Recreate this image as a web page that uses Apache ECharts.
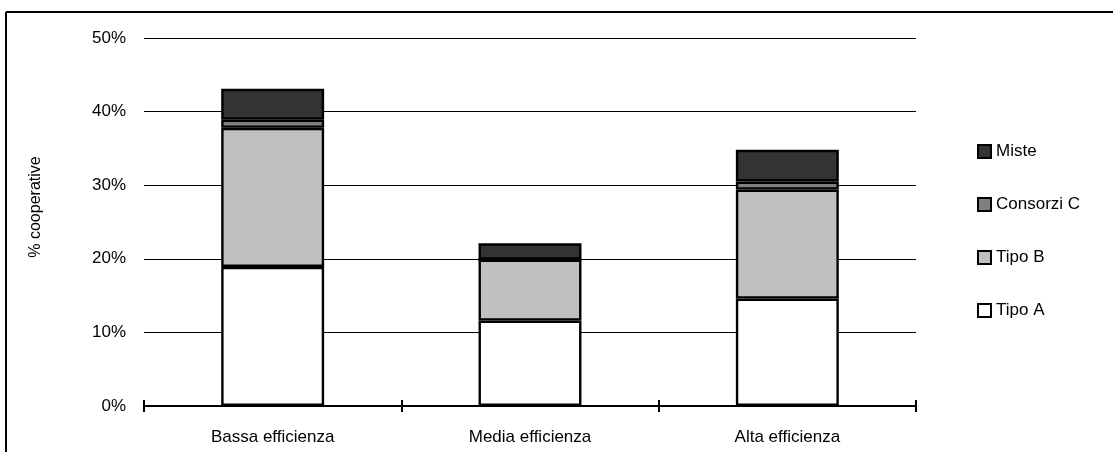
<!DOCTYPE html>
<html><head><meta charset="utf-8">
<script src="https://cdn.jsdelivr.net/npm/echarts@6/dist/echarts.min.js"></script>
<style>html,body{margin:0;padding:0;background:#fff}#c{width:1113px;height:452px}</style>
</head><body><div id="c"></div>
<script>
const categories = ['Bassa efficienza', 'Media efficienza', 'Alta efficienza'];
const tipoA = [18.9, 11.6, 14.6];
const tipoB = [18.9, 8.3, 14.8];
const consorziC = [1.1, 0, 1.1];
const miste = [4.2, 2.2, 4.3];
const yTicks = [0, 10, 20, 30, 40, 50];

const FONT = '"Liberation Sans", Arial, sans-serif';
const chart = echarts.init(document.getElementById('c'), null, {renderer: 'canvas'});
function bar(name, data, color) {
  return {
    name, type: 'bar', stack: 'tot', data, barCategoryGap: '60%',
    itemStyle: {color, borderColor: '#000', borderWidth: 2.4},
    emphasis: {disabled: true}
  };
}
chart.setOption({
  animation: false,
  grid: {left: 144, right: 197, top: 38, bottom: 46},
  legend: {
    orient: 'vertical', left: 972, top: 138, itemGap: 36,
    itemWidth: 13, itemHeight: 13, icon: 'rect',
    data: ['Miste', 'Consorzi C', 'Tipo B', 'Tipo A'],
    textStyle: {fontFamily: FONT, fontSize: 17, color: '#000'}
  },
  xAxis: [{
    type: 'category', data: categories,
    axisLine: {lineStyle: {color: '#000', width: 2}},
    axisTick: {show: true, length: 6, lineStyle: {color: '#000', width: 2}},
    axisLabel: {fontFamily: FONT, fontSize: 17, color: '#000', margin: 23}
  }, {
    type: 'category', data: categories, position: 'bottom',
    axisLine: {show: false},
    axisTick: {show: true, inside: true, length: 6, lineStyle: {color: '#000', width: 2}},
    axisLabel: {show: false}
  }],
  yAxis: {
    type: 'value', min: yTicks[0], max: yTicks[yTicks.length - 1], interval: 10,
    name: '% cooperative', nameLocation: 'middle', nameGap: 100, nameRotate: 90,
    nameTextStyle: {fontFamily: FONT, fontSize: 16, color: '#000', padding: [0, 0, 0, 30]},
    axisLine: {show: false}, axisTick: {show: false},
    axisLabel: {fontFamily: FONT, fontSize: 17, color: '#000', margin: 18, formatter: v => v + '%'},
    splitLine: {lineStyle: {color: '#000', width: 1}}
  },
  series: [
    bar('Tipo A', tipoA, '#ffffff'),
    bar('Tipo B', tipoB, '#c0c0c0'),
    bar('Consorzi C', consorziC, '#808080'),
    bar('Miste', miste, '#333333')
  ],
  graphic: [
    {type: 'line', shape: {x1: 6, y1: 12, x2: 1113, y2: 12}, style: {stroke: '#000', lineWidth: 2}},
    {type: 'line', shape: {x1: 6, y1: 12, x2: 6, y2: 452}, style: {stroke: '#000', lineWidth: 2}}
  ]
});
</script></body></html>
